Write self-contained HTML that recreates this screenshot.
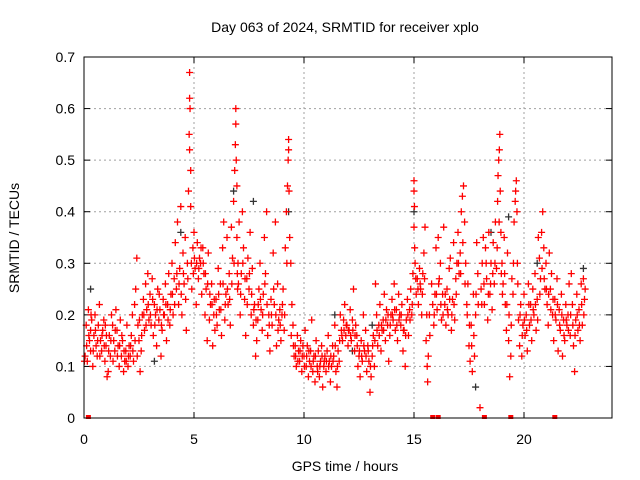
<!DOCTYPE html>
<html><head><meta charset="utf-8"><style>
html,body{margin:0;padding:0;background:#fff;}
svg{display:block;font-family:"Liberation Sans",sans-serif;}
</style></head><body>
<svg id="chart" width="640" height="480">
<text x="345" y="32" text-anchor="middle" font-size="14">Day 063 of 2024, SRMTID for receiver xplo</text>
<text x="345" y="471" text-anchor="middle" font-size="14">GPS time / hours</text>
<text transform="translate(19,238) rotate(-90)" text-anchor="middle" font-size="14">SRMTID / TECUs</text>
<g id="grid"></g>
<g id="ticks"></g>
<g id="marks"></g>
<rect x="84" y="57" width="528" height="361" fill="none" stroke="#000" stroke-width="1"/>
</svg>
<script>
const xTicks=[0,5,10,15,20];
const yTicks=[0,0.1,0.2,0.3,0.4,0.5,0.6,0.7];
const yTickLabels=["0","0.1","0.2","0.3","0.4","0.5","0.6","0.7"];
const blackData=[[0.3,.25],[4.4,.36],[6.8,.44],[7.7,.42],[9.3,.4],[11.4,.2],[13.1,.18],[15.0,.4],[17.8,.06],[18.5,.36],[19.3,.39],[20.6,.3],[22.7,.29],[3.2,.11],[12.2,.13]];
const zeroMarks=[0.2,15.85,16.1,18.2,19.4,21.4];
const redData=[
[0.05,.12],[0.1,.18],[0.15,.11],[0.2,.21],[0.25,.15],[0.3,.17],[0.3,.13],[0.35,.19],[0.4,.1],[0.45,.16],[0.5,.2],[0.55,.14],[0.6,.12],[0.65,.18],[0.7,.22],[0.75,.15],[0.8,.13],[0.85,.17],[0.9,.19],[0.95,.11],
[1.0,.14],[1.05,.08],[1.1,.09],[1.15,.16],[1.2,.12],[1.25,.2],[1.3,.18],[1.35,.15],[1.4,.13],[1.45,.21],[1.5,.17],[1.55,.14],[1.6,.1],[1.65,.19],[1.7,.12],[1.75,.15],[1.8,.09],[1.85,.11],[1.9,.13],[1.95,.18],
[2.0,.1],[2.05,.14],[2.1,.12],[2.15,.16],[2.2,.2],[2.25,.11],[2.3,.22],[2.35,.25],[2.4,.31],[2.45,.18],[2.5,.15],[2.55,.09],[2.6,.13],[2.65,.2],[2.7,.23],[2.75,.17],[2.8,.26],[2.85,.21],[2.9,.28],[2.95,.19],
[3.0,.24],[3.05,.18],[3.1,.27],[3.15,.16],[3.2,.22],[3.25,.2],[3.3,.14],[3.35,.25],[3.4,.19],[3.45,.21],[3.5,.12],[3.55,.17],[3.6,.23],[3.65,.2],[3.7,.26],[3.75,.15],[3.8,.22],[3.85,.28],[3.9,.18],[3.95,.24],
[4.0,.3],[4.05,.2],[4.1,.27],[4.15,.34],[4.2,.25],[4.25,.38],[4.3,.22],[4.35,.29],[4.4,.41],[4.45,.2],[4.5,.32],[4.55,.26],[4.6,.35],[4.65,.17],[4.7,.3],[4.75,.44],[4.8,.67],[4.8,.62],[4.82,.6],[4.78,.55],[4.8,.52],[4.85,.48],[4.85,.41],[4.9,.25],[4.95,.33],
[5.0,.36],[5.05,.29],[5.1,.22],[5.15,.34],[5.2,.27],[5.25,.31],[5.3,.3],[5.35,.24],[5.4,.33],[5.45,.28],[5.5,.2],[5.55,.25],[5.6,.15],[5.65,.32],[5.7,.19],[5.75,.22],[5.8,.26],[5.85,.14],[5.9,.2],[5.95,.17],
[6.0,.23],[6.05,.18],[6.1,.29],[6.15,.21],[6.2,.26],[6.25,.16],[6.3,.33],[6.35,.38],[6.4,.19],[6.45,.24],[6.5,.35],[6.55,.22],[6.6,.28],[6.65,.18],[6.7,.37],[6.75,.31],[6.8,.42],[6.85,.48],[6.88,.53],[6.9,.57],[6.9,.6],[6.92,.5],[6.95,.45],[6.95,.35],[6.98,.25],
[7.0,.3],[7.05,.38],[7.1,.2],[7.15,.28],[7.2,.4],[7.25,.33],[7.3,.23],[7.35,.16],[7.4,.27],[7.45,.31],[7.5,.25],[7.55,.36],[7.6,.2],[7.65,.29],[7.7,.18],[7.75,.22],[7.8,.12],[7.85,.15],[7.9,.19],[7.95,.25],
[8.0,.3],[8.05,.21],[8.1,.17],[8.15,.24],[8.2,.35],[8.25,.28],[8.3,.4],[8.35,.16],[8.4,.2],[8.45,.13],[8.5,.23],[8.55,.18],[8.6,.32],[8.65,.22],[8.7,.38],[8.75,.14],[8.8,.26],[8.85,.19],[8.9,.21],[8.95,.15],
[9.0,.2],[9.05,.25],[9.1,.17],[9.15,.33],[9.2,.4],[9.25,.45],[9.28,.5],[9.3,.52],[9.3,.54],[9.32,.44],[9.35,.35],[9.4,.3],[9.45,.22],[9.5,.18],[9.55,.12],[9.6,.14],[9.65,.1],[9.7,.16],[9.75,.13],[9.8,.11],[9.85,.15],[9.9,.09],[9.95,.14],
[10.0,.12],[10.05,.17],[10.1,.1],[10.15,.14],[10.2,.08],[10.25,.11],[10.3,.13],[10.35,.19],[10.4,.09],[10.45,.12],[10.5,.07],[10.55,.15],[10.6,.1],[10.65,.13],[10.7,.08],[10.75,.11],[10.8,.14],[10.85,.06],[10.9,.1],[10.95,.12],
[11.0,.09],[11.05,.13],[11.1,.16],[11.15,.11],[11.2,.07],[11.25,.1],[11.3,.14],[11.35,.12],[11.4,.18],[11.45,.09],[11.5,.06],[11.55,.13],[11.6,.11],[11.65,.2],[11.7,.17],[11.75,.15],[11.8,.19],[11.85,.22],[11.9,.16],[11.95,.18],
[12.0,.14],[12.05,.17],[12.1,.21],[12.15,.15],[12.2,.19],[12.25,.25],[12.3,.13],[12.35,.18],[12.4,.16],[12.45,.1],[12.5,.12],[12.55,.08],[12.6,.15],[12.65,.11],[12.7,.2],[12.75,.13],[12.8,.17],[12.85,.09],[12.9,.14],[12.95,.11],
[13.0,.05],[13.05,.08],[13.1,.12],[13.15,.16],[13.2,.1],[13.25,.26],[13.3,.2],[13.35,.14],[13.4,.18],[13.45,.22],[13.5,.13],[13.55,.17],[13.6,.19],[13.65,.24],[13.7,.15],[13.75,.21],[13.8,.18],[13.85,.11],[13.9,.16],[13.95,.2],
[14.0,.23],[14.05,.19],[14.1,.26],[14.15,.17],[14.2,.21],[14.25,.15],[14.3,.24],[14.35,.2],[14.4,.18],[14.45,.22],[14.5,.13],[14.55,.17],[14.6,.1],[14.65,.19],[14.7,.23],[14.75,.16],[14.8,.21],[14.85,.25],[14.9,.2],[14.95,.28],
[15.0,.46],[15.0,.44],[15.02,.41],[15.0,.37],[15.03,.33],[15.05,.3],[15.1,.24],[15.15,.27],[15.2,.22],[15.25,.29],[15.3,.25],[15.35,.2],[15.4,.28],[15.45,.32],[15.5,.37],[15.55,.15],[15.6,.1],[15.62,.07],[15.65,.12],[15.7,.2],[15.8,.26],[15.9,.18],[15.95,.24],
[16.0,.33],[16.05,.21],[16.1,.35],[16.15,.27],[16.2,.3],[16.25,.19],[16.3,.24],[16.35,.37],[16.4,.22],[16.45,.18],[16.5,.25],[16.55,.2],[16.6,.29],[16.65,.31],[16.7,.17],[16.75,.23],[16.8,.34],[16.85,.19],[16.9,.27],[16.95,.3],
[17.0,.36],[17.05,.28],[17.1,.32],[17.15,.4],[17.2,.43],[17.25,.45],[17.3,.38],[17.35,.3],[17.4,.22],[17.45,.26],[17.5,.14],[17.55,.11],[17.6,.18],[17.65,.09],[17.7,.24],[17.75,.12],[17.8,.2],[17.85,.34],[17.9,.28],[18.0,.02],
[18.05,.25],[18.1,.3],[18.15,.35],[18.2,.22],[18.25,.33],[18.3,.27],[18.35,.19],[18.4,.36],[18.45,.24],[18.5,.3],[18.55,.21],[18.6,.34],[18.65,.26],[18.7,.38],[18.75,.29],[18.8,.42],[18.82,.47],[18.85,.5],[18.88,.52],[18.9,.55],[18.92,.44],[18.95,.36],
[19.0,.3],[19.05,.26],[19.1,.35],[19.15,.22],[19.2,.17],[19.25,.32],[19.3,.15],[19.35,.08],[19.4,.12],[19.45,.27],[19.5,.24],[19.55,.38],[19.6,.42],[19.62,.44],[19.65,.46],[19.68,.4],[19.7,.3],[19.75,.19],[19.8,.14],[19.85,.22],[19.9,.12],[19.95,.18],
[20.0,.24],[20.05,.16],[20.1,.2],[20.15,.13],[20.2,.26],[20.25,.18],[20.3,.22],[20.35,.15],[20.4,.25],[20.45,.2],[20.5,.28],[20.55,.17],[20.6,.23],[20.65,.35],[20.7,.31],[20.75,.27],[20.8,.36],[20.85,.4],[20.9,.33],[20.95,.25],
[21.0,.3],[21.05,.22],[21.1,.18],[21.15,.32],[21.2,.25],[21.25,.28],[21.3,.2],[21.35,.15],[21.4,.23],[21.45,.19],[21.5,.27],[21.55,.13],[21.6,.21],[21.65,.17],[21.7,.24],[21.75,.12],[21.8,.19],[21.85,.15],[21.9,.22],[21.95,.18],
[22.0,.2],[22.05,.26],[22.1,.16],[22.15,.28],[22.2,.22],[22.25,.14],[22.3,.09],[22.35,.19],[22.4,.24],[22.45,.17],[22.5,.21],[22.55,.15],[22.6,.26],[22.65,.18],[22.7,.27],[22.75,.23]
];
const redDataExtra=[
[0.02,.11],[0.12,.14],[0.22,.16],[0.32,.2],[0.42,.13],[0.52,.17],[0.62,.15],[0.72,.12],[0.82,.16],[0.92,.14],[0.97,.18],
[1.02,.16],[1.12,.13],[1.22,.15],[1.32,.11],[1.42,.17],[1.52,.12],[1.62,.14],[1.72,.16],[1.82,.13],[1.92,.11],
[2.02,.12],[2.12,.14],[2.22,.13],[2.32,.15],[2.42,.12],[2.52,.19],[2.62,.16],[2.72,.2],[2.82,.18],[2.92,.22],
[3.02,.2],[3.12,.23],[3.22,.18],[3.32,.21],[3.42,.24],[3.52,.18],[3.62,.2],[3.72,.22],[3.82,.19],[3.92,.21],
[4.02,.24],[4.12,.22],[4.22,.28],[4.32,.26],[4.42,.24],[4.52,.28],[4.62,.23],[4.72,.27],[4.88,.3],[4.97,.28],
[5.02,.31],[5.12,.3],[5.22,.29],[5.32,.33],[5.42,.3],[5.52,.28],[5.62,.26],[5.72,.24],[5.82,.22],[5.92,.23],
[6.02,.2],[6.12,.24],[6.22,.21],[6.32,.26],[6.42,.22],[6.52,.25],[6.62,.23],[6.72,.26],[6.82,.3],[6.97,.28],
[7.02,.26],[7.12,.24],[7.22,.3],[7.32,.27],[7.42,.22],[7.52,.28],[7.62,.24],[7.72,.21],[7.82,.19],[7.92,.22],
[8.02,.23],[8.12,.2],[8.22,.26],[8.32,.22],[8.42,.18],[8.52,.2],[8.62,.25],[8.72,.2],[8.82,.17],[8.92,.18],
[9.02,.22],[9.12,.2],[9.22,.3],[9.42,.16],[9.52,.14],[9.62,.12],[9.72,.11],[9.82,.13],[9.92,.12],
[10.02,.1],[10.12,.12],[10.22,.13],[10.32,.1],[10.42,.11],[10.52,.12],[10.62,.09],[10.72,.1],[10.82,.12],[10.92,.11],
[11.02,.11],[11.12,.1],[11.22,.12],[11.32,.11],[11.42,.14],[11.52,.1],[11.62,.15],[11.72,.16],[11.82,.17],[11.92,.18],
[12.02,.17],[12.12,.16],[12.22,.17],[12.32,.16],[12.42,.14],[12.52,.13],[12.62,.12],[12.72,.14],[12.82,.12],[12.92,.13],
[13.02,.1],[13.12,.14],[13.22,.15],[13.32,.17],[13.42,.16],[13.52,.18],[13.62,.17],[13.72,.19],[13.82,.2],[13.92,.18],
[14.02,.2],[14.12,.21],[14.22,.18],[14.32,.19],[14.42,.2],[14.52,.17],[14.62,.16],[14.72,.2],[14.82,.19],[14.92,.22],
[15.08,.27],[15.18,.25],[15.28,.26],[15.38,.24],[15.48,.27],[15.58,.2],[15.72,.16],[15.85,.22],[15.92,.2],
[16.02,.24],[16.12,.26],[16.22,.22],[16.32,.2],[16.42,.24],[16.52,.21],[16.62,.23],[16.72,.2],[16.82,.22],[16.92,.24],
[17.02,.3],[17.12,.28],[17.22,.34],[17.32,.26],[17.42,.2],[17.52,.18],[17.62,.14],[17.72,.16],[17.82,.24],[17.92,.22],
[18.08,.22],[18.18,.26],[18.28,.3],[18.38,.24],[18.48,.26],[18.58,.28],[18.68,.3],[18.78,.33],[18.87,.38],[18.97,.28],
[19.02,.24],[19.12,.28],[19.22,.22],[19.32,.2],[19.42,.18],[19.52,.3],[19.72,.26],[19.82,.2],[19.92,.16],
[20.02,.19],[20.12,.17],[20.22,.22],[20.32,.19],[20.42,.21],[20.52,.22],[20.62,.19],[20.72,.24],[20.82,.29],[20.92,.27],
[21.02,.25],[21.12,.24],[21.22,.21],[21.32,.23],[21.42,.2],[21.52,.22],[21.62,.18],[21.72,.2],[21.82,.16],[21.92,.19],
[22.02,.17],[22.12,.2],[22.22,.18],[22.32,.16],[22.42,.2],[22.52,.18],[22.62,.22],[22.72,.2],[22.78,.25]
];
const X0=84,X1=612,Y0=418,Y1=57,XMAX=24,YMAX=0.7;
function sx(t){return X0+(X1-X0)*t/XMAX;}
function sy(v){return Y0-(Y0-Y1)*v/YMAX;}
const NS="http://www.w3.org/2000/svg";
function mk(tag,attrs,parent){const e=document.createElementNS(NS,tag);for(const k in attrs)e.setAttribute(k,attrs[k]);parent.appendChild(e);return e;}
const grid=document.getElementById('grid'),ticks=document.getElementById('ticks'),marks=document.getElementById('marks');
xTicks.forEach((t)=>{
  const x=sx(t);
  if(t>0){const g=mk('line',{x1:x,x2:x,y1:Y1,y2:Y0,stroke:'#a0a0a0','stroke-dasharray':'2,3','stroke-width':1},grid);
  
  }
  mk('line',{x1:x,x2:x,y1:Y0,y2:Y0-6,stroke:'#000'},ticks);
  mk('line',{x1:x,x2:x,y1:Y1,y2:Y1+6,stroke:'#000'},ticks);
  const l=mk('text',{x:x,y:Y0+26,'text-anchor':'middle','font-size':14},ticks);
  l.textContent=String(t);
  
  
});
yTicks.forEach((v,i)=>{
  const y=sy(v);
  if(v>0&&v<YMAX){const g=mk('line',{x1:X0,x2:X1,y1:y,y2:y,stroke:'#a0a0a0','stroke-dasharray':'2,3','stroke-width':1},grid);
  
  }
  mk('line',{x1:X0,x2:X0+6,y1:y,y2:y,stroke:'#000'},ticks);
  mk('line',{x1:X1,x2:X1-6,y1:y,y2:y,stroke:'#000'},ticks);
  const l=mk('text',{x:X0-9,y:y+5,'text-anchor':'end','font-size':14},ticks);
  l.textContent=yTickLabels[i];
  
  
});
function plus(t,v,color,name){
  const x=sx(t),y=sy(v);
  const p=mk('path',{d:`M${x-3.5},${y}H${x+3.5}M${x},${y-3.5}V${y+3.5}`,stroke:color,'stroke-width':1.3,fill:'none'},marks);
  
  
}
blackData.forEach(d=>plus(d[0],d[1],'#333','black-point'));
redData.forEach(d=>plus(d[0],d[1],'#ff0000','red-point'));
redDataExtra.forEach(d=>plus(d[0],d[1],'#ff0000','red-point'));
zeroMarks.forEach(t=>{
  const r=mk('rect',{x:sx(t)-2.5,y:Y0-3,width:5,height:4,fill:'#ff0000'},marks);
  
  
});
</script>
</body></html>
